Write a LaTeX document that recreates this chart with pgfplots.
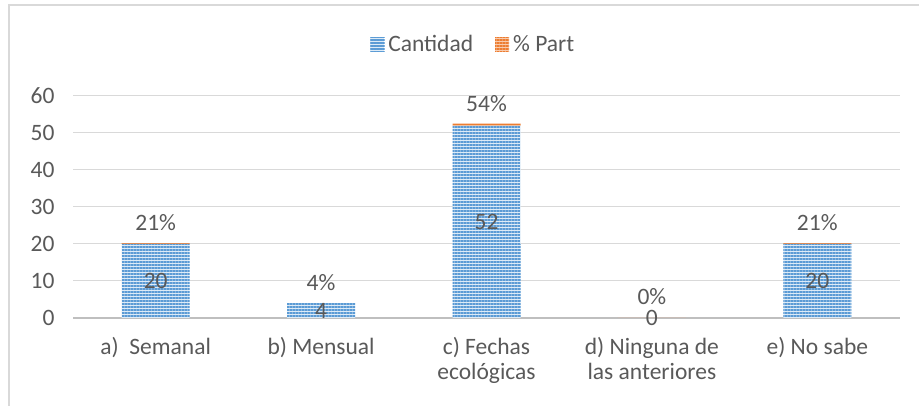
\documentclass[border=0pt]{standalone}
\usepackage{fontspec}
\setmainfont{Carlito}
\usepackage{pgfplots}
\pgfplotsset{compat=1.18}
\pgfkeys{/pgf/number format/assume math mode=true}
\usepackage{pgfplotstable}
\usetikzlibrary{patterns.meta}
\definecolor{txt}{HTML}{595959}
\definecolor{gridc}{HTML}{D9D9D9}
\definecolor{axisc}{HTML}{BFBFBF}
\definecolor{bluedark}{HTML}{5B9BD5}
\definecolor{bluelight}{HTML}{DDEBF7}
\definecolor{orangedark}{HTML}{ED7D31}
\definecolor{orangelight}{HTML}{F8CBAD}

\pgfplotstableread{
x cant part pct
0 20 0.21 21
1 4  0.04 4
2 52 0.54 54
3 0  0.00 0
4 20 0.21 21
}\data

\newcommand{\ff}{\fontsize{23.5}{24.5}\selectfont}
\pgfplotsset{
  common/.style={
    at={(73pt,88pt)}, anchor=south west,
    scale only axis, width=827pt, height=222pt,
    xmin=-0.5, xmax=4.5, ymin=0, ymax=60,
    clip=false,
    /pgf/number format/assume math mode=true,
  }
}

\begin{document}
\begin{tikzpicture}
\useasboundingbox (0,0) rectangle (919pt,406pt);
\draw[gridc, line width=1.3pt] (9pt,0) -- (9pt,401pt) -- (919pt,401pt);
\begin{axis}[
  common,
  ybar stacked, bar width=68pt,
  stacked ignores zero=false,
  ytick={0,10,...,60},
  xtick={0,...,4},
  xticklabels={a)\ \ Semanal, b) Mensual, {c) Fechas\\ecológicas}, {d) Ninguna de\\las anteriores}, e) No sabe},
  axis line style={draw=none},
  ymajorgrids, grid style={gridc, line width=1pt},
  major tick length=0pt,
  tick label style={font=\ff, text=txt},
  yticklabel style={xshift=-15pt},
  xticklabel style={align=center, yshift=-16pt},
  legend style={at={(0.484,1.234)}, anchor=center, draw=none, fill=none,
    font=\ff, text=txt, legend columns=-1,
    /tikz/every odd column/.append style={column sep=2pt},
    /tikz/every even column/.append style={column sep=20pt},
    inner sep=0pt},
]
\addplot+[fill=bluelight, draw=none,
  postaction={pattern={Lines[angle=0,distance=3pt,line width=1.7pt]}, pattern color=bluedark},
  legend image code/.code={
    \fill[bluelight] (0pt,-7pt) rectangle (14pt,7pt);
    \fill[pattern={Lines[angle=0,distance=3pt,line width=1.7pt]}, pattern color=bluedark] (0pt,-7pt) rectangle (14pt,7pt);
  }]
  table[x=x, y=cant] {\data};
\addlegendentry{Cantidad}
\addplot+[fill=orangedark, draw=none,
  point meta=explicit,
  nodes near coords={\pgfmathprintnumber{\pgfplotspointmeta}\%},
  every node near coord/.append style={anchor=center, yshift=21pt, inner sep=0.5pt, text=txt, font=\ff},
  legend image code/.code={
    \fill[orangelight] (0pt,-7pt) rectangle (14pt,7pt);
    \fill[pattern={Lines[angle=0,distance=3pt,line width=1.7pt]}, pattern color=orangedark] (0pt,-7pt) rectangle (14pt,7pt);
  }]
  table[x=x, y=part, meta=pct] {\data};
\addlegendentry{\% Part}
\draw[axisc, line width=2pt] (axis cs:-0.5,0) -- (axis cs:4.5,0);
\end{axis}
\begin{axis}[common, hide axis]
\addplot[draw=none, mark=none, point meta=explicit,
  nodes near coords,
  every node near coord/.append style={anchor=center, inner sep=0.5pt, text=txt, font=\ff}]
  table[x=x, y expr=\thisrow{cant}/2, meta=cant] {\data};
\end{axis}
\end{tikzpicture}
\end{document}
